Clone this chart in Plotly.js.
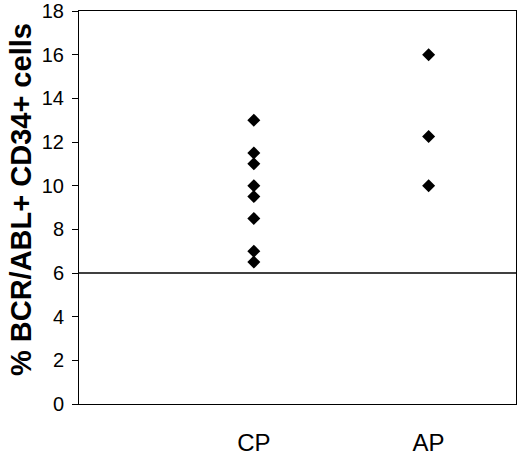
<!DOCTYPE html>
<html>
<head>
<meta charset="utf-8">
<script src="https://cdn.plot.ly/plotly-3.0.1.min.js"></script>
<style>html,body{margin:0;padding:0;background:#fff}#chart{width:520px;height:465px}</style>
</head>
<body>
<div id="chart"></div>
<script>
var categories = ["CP", "AP"];
var categoryPositions = [1, 2];
var cpValues = [13, 11.5, 11, 10, 9.5, 8.5, 7, 6.5];
var apValues = [16, 12.25, 10];
var yTicks = [0, 2, 4, 6, 8, 10, 12, 14, 16, 18];
var thresholdValue = 6;

var cpX = cpValues.map(function(){ return categoryPositions[0]; });
var apX = apValues.map(function(){ return categoryPositions[1]; });

var markerStyle = {symbol: "diamond", size: 10, color: "#000"};

var data = [
  {type: "scatter", mode: "markers", x: cpX, y: cpValues, marker: markerStyle, showlegend: false, hoverinfo: "y"},
  {type: "scatter", mode: "markers", x: apX, y: apValues, marker: markerStyle, showlegend: false, hoverinfo: "y"}
];

var layout = {
  width: 520, height: 465,
  margin: {l: 79, r: 4, t: 11, b: 61, pad: 0},
  paper_bgcolor: "#fff", plot_bgcolor: "#fff",
  font: {family: "Liberation Sans, Arial, sans-serif", color: "#000"},
  xaxis: {
    range: [0, 2.5], tickvals: categoryPositions, ticktext: categories,
    ticks: "", showgrid: false, zeroline: false,
    showline: true, linecolor: "#000", linewidth: 1, mirror: true,
    tickfont: {size: 24, color: "#000"}, ticklabelstandoff: 17, fixedrange: true
  },
  yaxis: {
    range: [0, 18], tickvals: yTicks, ticktext: yTicks.map(String),
    ticks: "outside", ticklen: 6, tickcolor: "#000", tickwidth: 1,
    showgrid: false, zeroline: false,
    showline: true, linecolor: "#000", linewidth: 1, mirror: true,
    tickfont: {size: 20, color: "#000"}, ticklabelstandoff: 4, fixedrange: true
  },
  shapes: [{
    type: "line", xref: "paper", yref: "y", x0: 0, x1: 1, y0: thresholdValue, y1: thresholdValue,
    line: {color: "#000", width: 1.3}
  }],
  annotations: [{
    text: "<b>% BCR/ABL+ CD34+ cells</b>", textangle: -90,
    xref: "paper", yref: "paper", x: -0.134, y: 0.52,
    xanchor: "center", yanchor: "middle", showarrow: false,
    font: {size: 29, color: "#000"}
  }]
};

Plotly.newPlot("chart", data, layout, {displayModeBar: false, staticPlot: true});
</script>
</body>
</html>
